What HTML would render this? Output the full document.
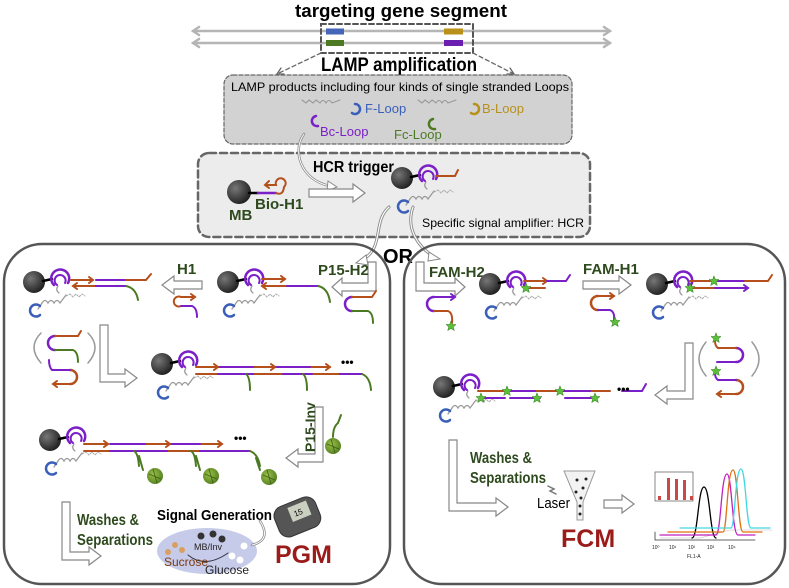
<!DOCTYPE html>
<html><head><meta charset="utf-8"><style>
html,body{margin:0;padding:0;background:#fff;width:789px;height:588px;overflow:hidden}
svg{display:block;font-family:"Liberation Sans",sans-serif}
</style></head><body>
<svg width="789" height="588" viewBox="0 0 789 588" xmlns="http://www.w3.org/2000/svg">
<defs>
<radialGradient id="bg" cx="0.35" cy="0.35" r="0.7"><stop offset="0" stop-color="#777"/><stop offset="1" stop-color="#1e1e1e"/></radialGradient>
<radialGradient id="gg" cx="0.4" cy="0.4" r="0.7"><stop offset="0" stop-color="#9bc14a"/><stop offset="1" stop-color="#4d7a1c"/></radialGradient>
<g id="mbc">
 <circle cx="0" cy="0" r="11" fill="url(#bg)"/>
 <path d="M9 -1 L18 -3" stroke="#000" stroke-width="2.5"/>
 <path d="M20 3 A9 9 0 1 1 34 1" fill="none" stroke="#7b1fc8" stroke-width="2.5"/>
 <path d="M23 3 A5.5 5.5 0 1 1 31 1" fill="none" stroke="#7b1fc8" stroke-width="2"/>
 <path d="M24 4 q-3 4 1 7" fill="none" stroke="#999" stroke-width="1.2"/>
 <path d="M4 27 l4 -6 q3 -5 6 0 q3 -5 6 0 q3 -5 6 0 l6 -8" fill="none" stroke="#9a9a9a" stroke-width="1.3"/>
 <path d="M32 14 l4 -2 l3 3 l3 -3 l3 3 l3 -3 l3 2" fill="none" stroke="#aaa" stroke-width="1" stroke-dasharray="2 1.5"/>
 <path d="M6 24 A6 6 0 1 0 6 33" fill="none" stroke="#3a5fb8" stroke-width="2.5"/>
</g>
<g id="gball"><circle r="8" fill="url(#gg)"/><path d="M-6 -2 L6 3 M-2 -7 L2 7" stroke="#3c5e12" stroke-width="0.8"/></g>
<path id="star" d="M0 -5 L1.5 -1.5 L5 -1.5 L2.3 1 L3.3 4.5 L0 2.5 L-3.3 4.5 L-2.3 1 L-5 -1.5 L-1.5 -1.5Z" fill="#5cbf3a" stroke="#2f7a1e" stroke-width="0.5"/>
</defs>
<g stroke-linecap="round">
<!-- title -->
<text x="401" y="17" font-size="18" font-weight="bold" text-anchor="middle" textLength="212" lengthAdjust="spacingAndGlyphs">targeting  gene segment</text>
<g stroke="#b5b5b5" stroke-width="2.5" fill="none">
<path d="M193 31 H610 M193 43 H610"/>
<path d="M199 27 L193 31 L199 35 M604 27 L610 31 L604 35 M199 39 L193 43 L199 47 M604 39 L610 43 L604 47"/>
</g>
<rect x="326" y="28.5" width="18" height="6" fill="#4566b8"/>
<rect x="444" y="28.5" width="19" height="6" fill="#b8901a"/>
<rect x="326" y="40" width="18" height="6" fill="#4b7a23"/>
<rect x="444" y="40" width="19" height="6" fill="#6a1fb0"/>
<rect x="321" y="24" width="152" height="29" fill="none" stroke="#555" stroke-width="2" stroke-dasharray="5 3"/>
<path d="M321 53 L277 74 M473 53 L514 74" stroke="#666" stroke-width="1.3" stroke-dasharray="4 3"/>
<path d="M281 68 L277 74 L284 74 M510 68 L514 74 L507 74" stroke="#666" stroke-width="1.3" fill="none"/>
<text x="399" y="71" font-size="19" font-weight="bold" text-anchor="middle" textLength="156" lengthAdjust="spacingAndGlyphs">LAMP amplification</text>
<!-- LAMP box -->
<rect x="224" y="75" width="348" height="69" rx="9" fill="#d2d2d2" stroke="#666" stroke-width="1.2" stroke-dasharray="4 2"/>
<text x="231" y="91" font-size="12" textLength="338" lengthAdjust="spacingAndGlyphs">LAMP products including four kinds of single stranded Loops</text>
<path d="M302 100 l4 3 l3 -3 l4 3 l3 -3 l4 3 q3 -5 6 0 q3 -5 6 0 l8 -3" fill="none" stroke="#999" stroke-width="1.1"/>
<path d="M418 100 l4 3 l3 -3 l4 3 l3 -3 l4 3 q3 -5 6 0 q3 -5 6 0 l8 -3" fill="none" stroke="#999" stroke-width="1.1"/>
<path d="M355 104 A5 5 0 1 1 352 113" fill="none" stroke="#3a5fb8" stroke-width="2.5"/>
<path d="M474 104 A5 5 0 1 1 471 113" fill="none" stroke="#b8901a" stroke-width="2.5"/>
<path d="M316 116 A5 5 0 1 0 318 126" fill="none" stroke="#7b1fc8" stroke-width="2.5"/>
<path d="M433 119 A5 5 0 1 0 435 129" fill="none" stroke="#4b7a23" stroke-width="2.5"/>
<text x="365" y="113" font-size="13" fill="#3a5fb8">F-Loop</text>
<text x="482" y="113" font-size="13" fill="#b8901a">B-Loop</text>
<text x="320" y="136" font-size="13" fill="#7b1fc8">Bc-Loop</text>
<text x="394" y="139" font-size="13" fill="#4b7a23">Fc-Loop</text>
<!-- HCR box -->
<rect x="198" y="153" width="392" height="84" rx="11" fill="#ececec" stroke="#666" stroke-width="2.5" stroke-dasharray="7 4"/>
<path d="M304 134 C292 150 300 180 330 186" fill="none" stroke="#888" stroke-width="2.5"/>
<path d="M304 134 C292 150 300 180 330 186" fill="none" stroke="#fff" stroke-width="1"/>
<path d="M328 181 L337 187 L327 191Z" fill="#fff" stroke="#888"/>
<text x="313" y="172" font-size="16" font-weight="bold" textLength="81" lengthAdjust="spacingAndGlyphs">HCR trigger</text>
<circle cx="239" cy="192" r="12" fill="url(#bg)"/>
<path d="M249 193 H258" stroke="#000" stroke-width="2.5"/>
<path d="M258 193 H276" stroke="#7b1fc8" stroke-width="2.5"/>
<path d="M276 193 q7 3 8 -6 a5 5 0 1 0 -8 -2 h-10" fill="none" stroke="#b5501c" stroke-width="2"/>
<path d="M269 181 l-4 4 l4 3" fill="none" stroke="#b5501c" stroke-width="2"/>
<text x="255" y="209" font-size="15" fill="#2e4a1e" font-weight="bold">Bio-H1</text>
<text x="229" y="220" font-size="15" fill="#2e4a1e" font-weight="bold">MB</text>
<polygon points="309,189 353,189 353,184 365,193 353,202 353,197 309,197" fill="#fff" stroke="#888" stroke-width="1.2"/>
<use href="#mbc" x="402" y="178"/>
<path d="M436 176 H455 l3 -6" fill="none" stroke="#b5501c" stroke-width="2"/>
<text x="422" y="227" font-size="12" textLength="162" lengthAdjust="spacingAndGlyphs">Specific signal amplifier: HCR</text>
<path d="M389 207 C372 222 385 248 362 260" fill="none" stroke="#888" stroke-width="3"/>
<path d="M389 207 C372 222 385 248 362 260" fill="none" stroke="#fff" stroke-width="1.2"/>
<path d="M366 255 L356 263 L368 265Z" fill="#fff" stroke="#888"/>
<path d="M413 207 C405 230 420 248 433 256" fill="none" stroke="#888" stroke-width="3"/>
<path d="M413 207 C405 230 420 248 433 256" fill="none" stroke="#fff" stroke-width="1.2"/>
<path d="M429 252 L440 259 L428 261Z" fill="#fff" stroke="#888"/>
<text x="398" y="263" font-size="20" font-weight="bold" text-anchor="middle">OR</text>
<!-- panels -->
<rect x="4" y="244" width="386" height="340" rx="38" fill="none" stroke="#555" stroke-width="2.5"/>
<rect x="404" y="244" width="381" height="340" rx="38" fill="none" stroke="#555" stroke-width="2.5"/>
<g fill="#fff" stroke="#888" stroke-width="1.2">
<polygon points="368,262 376,262 376,291 342,291 342,296 332,287 342,278 342,283 368,283"/>
<polygon points="416,262 424,262 424,283 455,283 455,278 465,287 455,296 455,291 416,291"/>
<polygon points="202,281 174,281 174,276 162,285 174,294 174,289 202,289"/>
<polygon points="583,281 619,281 619,276 631,285 619,294 619,289 583,289"/>
<polygon points="100,325 108,325 108,374 125,374 125,369 137,378 125,387 125,382 100,382"/>
<polygon points="315,407 323,407 323,462 298,462 298,467 286,458 298,449 298,454 315,454"/>
<polygon points="62,502 70,502 70,552 89,552 89,547 101,556 89,565 89,560 62,560"/>
<polygon points="685,343 693,343 693,399 667,399 667,404 655,395 667,386 667,391 685,391"/>
<polygon points="449,440 457,440 457,503 496,503 496,498 508,507 496,516 496,511 449,511"/>
<polygon points="604,500 622,500 622,495 634,504 622,513 622,508 604,508"/>
</g>
<!-- left row 1 -->
<g transform="translate(0,-3)">
<use href="#mbc" x="34" y="285"/>
<g fill="none" stroke-width="2">
<path d="M71 283 H93" stroke="#b5501c"/><path d="M89 280 l4 3 l-4 3" stroke="#b5501c"/>
<path d="M96 283 H126" stroke="#7b1fc8"/><path d="M126 283 H146 l5 -6" stroke="#b5501c"/>
<path d="M73 289 H96" stroke="#b5501c"/><path d="M77 286 l-4 3 l4 3" stroke="#b5501c"/>
<path d="M96 289 H126" stroke="#7b1fc8"/><path d="M126 289 q10 2 12 14" stroke="#4b7a23"/>
</g>
<use href="#mbc" x="228" y="285"/>
<g fill="none" stroke-width="2">
<path d="M262 282 H285" stroke="#b5501c"/><path d="M281 279 l4 3 l-4 3" stroke="#b5501c"/>
<path d="M262 289 H287" stroke="#b5501c"/><path d="M266 286 l-4 3 l4 3" stroke="#b5501c"/>
<path d="M287 289 H318" stroke="#7b1fc8"/><path d="M318 289 q10 2 12 16" stroke="#4b7a23"/>
</g>
</g>
<g fill="none" stroke-width="2">
<path d="M181 297 a5 5 0 1 0 0 9" stroke="#b5501c"/><path d="M181 297 H195" stroke="#b5501c"/><path d="M191 294 l4 3 l-4 3" stroke="#b5501c"/>
<path d="M181 306 H192 q5 2 5 11" stroke="#7b1fc8"/>
<path d="M352 297 a6 6 0 1 0 0 14" stroke="#7b1fc8" stroke-width="2.5"/>
<path d="M352 297 H372 l4 -6" stroke="#b5501c"/>
<path d="M352 311 H368 q5 2 5 12" stroke="#4b7a23"/>
</g>
<text x="177" y="274" font-size="15" font-weight="bold" fill="#2e4a1e">H1</text>
<text x="318" y="275" font-size="15" font-weight="bold" fill="#2e4a1e">P15-H2</text>
<!-- right row 1 -->
<text x="429" y="277" font-size="15" font-weight="bold" fill="#2e4a1e">FAM-H2</text>
<text x="583" y="274" font-size="15" font-weight="bold" fill="#2e4a1e">FAM-H1</text>
<g fill="none" stroke-width="2">
<path d="M434 297 a6 6 0 1 0 0 14" stroke="#7b1fc8" stroke-width="2.5"/>
<path d="M434 297 H455" stroke="#7b1fc8"/><path d="M451 294 l4 3 l-4 3" stroke="#7b1fc8"/>
<path d="M434 311 H448 q5 2 4 12" stroke="#b5501c"/>
<path d="M598 296 a6 6 0 1 0 0 14" stroke="#b5501c" stroke-width="2.5"/>
<path d="M598 296 H614" stroke="#b5501c"/><path d="M610 293 l4 3 l-4 3" stroke="#b5501c"/>
<path d="M598 310 H610 q5 2 4 10" stroke="#7b1fc8"/>
</g>
<use href="#star" x="451" y="326"/><use href="#star" x="615" y="322"/>
<use href="#mbc" x="490" y="284"/>
<g fill="none" stroke-width="2">
<path d="M524 281 H547" stroke="#b5501c"/><path d="M543 278 l4 3 l-4 3" stroke="#b5501c"/>
<path d="M547 281 H566 l4 -6" stroke="#7b1fc8"/>
<path d="M524 288 H545" stroke="#b5501c"/>
</g>
<use href="#star" x="526" y="288"/>
<use href="#mbc" x="657" y="284"/>
<g fill="none" stroke-width="2">
<path d="M690 281 H712" stroke="#b5501c"/><path d="M714 281 H745" stroke="#7b1fc8"/><path d="M745 281 H768 l4 -6" stroke="#b5501c"/>
<path d="M690 288 H715" stroke="#b5501c"/><path d="M715 288 H748" stroke="#7b1fc8"/><path d="M744 285 l4 3 l-4 3" stroke="#7b1fc8"/>
</g>
<use href="#star" x="714" y="281"/><use href="#star" x="690" y="288"/>
<!-- left row 2 -->
<g fill="none" stroke-width="2">
<path d="M41 333 q-14 14 0 30" stroke="#999" stroke-width="1.5"/><path d="M88 333 q14 14 0 30" stroke="#999" stroke-width="1.5"/>
<path d="M55 336 a6 6 0 1 0 0 14" stroke="#7b1fc8" stroke-width="2.5"/>
<path d="M55 336 H78 l3 -5" stroke="#b5501c"/><path d="M55 350 H73 q5 2 5 12" stroke="#4b7a23"/>
<path d="M70 370 a6 6 0 1 1 0 14" stroke="#b5501c" stroke-width="2.5"/>
<path d="M70 370 H52 q-3 -3 -3 -10" stroke="#7b1fc8"/><path d="M70 384 H53" stroke="#b5501c"/><path d="M57 381 l-4 3 l4 3" stroke="#b5501c"/>
</g>
<use href="#mbc" x="162" y="364"/>
<g fill="none" stroke-width="2">
<path d="M196 367 H218 M253 367 H275 M310 367 H330" stroke="#b5501c"/>
<path d="M218 367 H253 M275 367 H310" stroke="#7b1fc8"/>
<path d="M214 364 l4 3 l-4 3 M271 364 l4 3 l-4 3 M326 364 l4 3 l-4 3" stroke="#b5501c"/>
<path d="M196 374 H218 M253 374 H283 M312 374 H340" stroke="#b5501c"/>
<path d="M218 374 H253 M283 374 H312 M340 374 H362" stroke="#7b1fc8"/>
<path d="M246 374 q4 3 4 16 M303 374 q4 3 4 16 M362 374 q8 3 9 16" stroke="#4b7a23"/>
</g>
<text x="341" y="366" font-size="12" font-weight="bold">•••</text>
<!-- right row 2 -->
<use href="#mbc" x="444" y="387"/>
<g fill="none" stroke-width="2">
<path d="M478 391 H505 M535 391 H558 M590 391 H610" stroke="#b5501c"/>
<path d="M509 391 H535 M562 391 H590" stroke="#7b1fc8"/>
<path d="M483 398 H505 M510 398 H540 M565 398 H595" stroke="#7b1fc8"/>
<path d="M622 391 H642 l4 -7" stroke="#7b1fc8"/>
</g>
<use href="#star" x="507" y="391"/><use href="#star" x="560" y="391"/><use href="#star" x="481" y="398"/><use href="#star" x="537" y="398"/><use href="#star" x="595" y="398"/>
<text x="617" y="393" font-size="12" font-weight="bold">•••</text>
<g fill="none" stroke-width="2">
<path d="M706 342 q-14 17 0 34" stroke="#999" stroke-width="1.5"/><path d="M752 342 q14 17 0 34" stroke="#999" stroke-width="1.5"/>
<path d="M736 348 a6 6 0 1 1 0 14" stroke="#7b1fc8" stroke-width="2.5"/>
<path d="M736 348 H718 q-3 -2 -3 -7" stroke="#b5501c"/><path d="M736 362 H717" stroke="#7b1fc8"/>
<path d="M736 380 a6 6 0 1 1 0 14" stroke="#b5501c" stroke-width="2.5"/>
<path d="M736 380 H718 q-3 -2 -3 -7" stroke="#7b1fc8"/><path d="M736 394 H717" stroke="#b5501c"/><path d="M721 391 l-4 3 l4 3" stroke="#b5501c"/>
</g>
<use href="#star" x="716" y="338"/><use href="#star" x="716" y="371"/>
<!-- left row 3 -->
<use href="#mbc" x="50" y="440"/>
<g fill="none" stroke-width="2">
<path d="M84 444 H108 M145 444 H170 M200 444 H222" stroke="#b5501c"/>
<path d="M110 444 H145 M170 444 H200" stroke="#7b1fc8"/>
<path d="M104 441 l4 3 l-4 3 M166 441 l4 3 l-4 3 M218 441 l4 3 l-4 3" stroke="#b5501c"/>
<path d="M84 451 H110 M167 451 H200" stroke="#b5501c"/>
<path d="M110 451 H167 M200 451 H250" stroke="#7b1fc8"/>
<path d="M134 451 q4 2 5 15 M139 456 l4 14 M191 451 q4 2 5 15 M196 456 l4 14 M250 451 q8 3 10 15 M256 458 l4 12" stroke="#4b7a23"/>
</g>
<use href="#gball" x="155" y="476"/><use href="#gball" x="211" y="476"/><use href="#gball" x="269" y="477"/>
<text x="234" y="442" font-size="12" font-weight="bold">•••</text>
<text transform="translate(315,452) rotate(-90)" font-size="14" font-weight="bold" fill="#2e4a1e">P15-Inv</text>
<path d="M333 437 q0 -10 5 -14 l3 -8" fill="none" stroke="#4b7a23" stroke-width="2"/>
<use href="#gball" x="333" y="446"/>
<!-- left row 4 -->
<text x="77" y="525" font-size="16" fill="#2e4a1e" font-weight="bold" textLength="62" lengthAdjust="spacingAndGlyphs">Washes &amp;</text>
<text x="77" y="545" font-size="16" fill="#2e4a1e" font-weight="bold" textLength="76" lengthAdjust="spacingAndGlyphs">Separations</text>
<text x="157" y="520" font-size="15" font-weight="bold" textLength="115" lengthAdjust="spacingAndGlyphs">Signal Generation</text>
<ellipse cx="207" cy="551" rx="50" ry="23" fill="#c6cbea"/>
<circle cx="201" cy="536" r="3.5" fill="#333"/><circle cx="213" cy="534" r="3.5" fill="#333"/><circle cx="222" cy="539" r="3.5" fill="#333"/>
<circle cx="175" cy="545" r="3" fill="#d8a060"/><circle cx="168" cy="552" r="3" fill="#d8a060"/><circle cx="182" cy="550" r="3" fill="#d8a060"/>
<circle cx="232" cy="556" r="3.5" fill="#fff"/><circle cx="240" cy="560" r="3.5" fill="#fff"/><circle cx="244" cy="546" r="3.5" fill="#fff"/>
<path d="M188 555 q17 14 40 -2" fill="none" stroke="#334" stroke-width="1"/>
<text x="194" y="550" font-size="9" fill="#222">MB/Inv</text>
<text x="164" y="566" font-size="12" fill="#7a3b0e">Sucrose</text>
<text x="205" y="574" font-size="12" fill="#222">Glucose</text>
<path d="M252 545 q20 -5 8 -24" fill="none" stroke="#888" stroke-width="2.5"/><path d="M252 545 q20 -5 8 -24" fill="none" stroke="#fff" stroke-width="1"/>
<g transform="translate(297,516) rotate(-22)"><rect x="-22" y="-15" width="44" height="32" rx="10" fill="#555" stroke="#333"/><rect x="-6" y="-11" width="20" height="15" fill="#c9d0c0"/><text x="-2" y="0" font-size="8">15</text></g>
<text x="275" y="563" font-size="25" font-weight="bold" fill="#9b1b1b">PGM</text>
<!-- right row 3 -->
<text x="470" y="463" font-size="16" fill="#2e4a1e" font-weight="bold" textLength="62" lengthAdjust="spacingAndGlyphs">Washes &amp;</text>
<text x="470" y="483" font-size="16" fill="#2e4a1e" font-weight="bold" textLength="76" lengthAdjust="spacingAndGlyphs">Separations</text>
<path d="M548 486 l6 3 l-4 2 l6 3" fill="none" stroke="#777" stroke-width="1.5"/>
<text x="537" y="508" font-size="15" textLength="33" lengthAdjust="spacingAndGlyphs">Laser</text>
<path d="M564 471 L595 471 L583 502 L583 520 L577 520 L577 502 Z" fill="#f3f3f3" stroke="#999"/>
<g fill="#222"><circle cx="577" cy="480" r="1.5"/><circle cx="586" cy="479" r="1.5"/><circle cx="583" cy="488" r="1.5"/><circle cx="576" cy="492" r="1.5"/><circle cx="581" cy="498" r="1.5"/><circle cx="580" cy="506" r="1.5"/><circle cx="580" cy="514" r="1.5"/></g>
<text x="561" y="547" font-size="25" font-weight="bold" fill="#9b1b1b">FCM</text>
<!-- histogram -->
<rect x="655" y="472" width="38" height="29" fill="#fff" stroke="#555" stroke-width="0.7"/>
<g fill="#c94848"><rect x="658" y="496" width="3" height="4"/><rect x="667" y="478" width="3" height="22"/><rect x="675" y="479" width="3" height="21"/><rect x="683" y="480" width="3" height="20"/><rect x="690" y="496" width="3" height="4"/></g>
<path d="M655 540 H755 M655 540 V532" stroke="#333" stroke-width="0.8"/>
<path d="M660 538 H700 L730 530 L772 530" fill="none" stroke="#bbb" stroke-width="0.6"/>
<path d="M692 538 C698 538 698 487 704 487 C710 487 710 538 716 538" fill="none" stroke="#000" stroke-width="1.3"/>
<path d="M660 535 H716 C721 535 721 474 727 474 C732 474 732 535 738 535 H755" fill="none" stroke="#c020c0" stroke-width="1.3"/>
<path d="M668 532 H723 C727 532 727 470 733 470 C738 470 738 532 743 532 H762" fill="none" stroke="#e07010" stroke-width="1.3"/>
<path d="M680 528 H731 C735 528 735 469 741 469 C746 469 746 528 751 528 H770" fill="none" stroke="#40d8e0" stroke-width="1.3"/>
<g font-size="5" fill="#222"><text x="652" y="549">10⁰</text><text x="669" y="549">10¹</text><text x="688" y="549">10²</text><text x="707" y="549">10³</text><text x="728" y="549">10⁴</text><text x="687" y="558">FL1-A</text></g>
</g>
</svg>
</body></html>
